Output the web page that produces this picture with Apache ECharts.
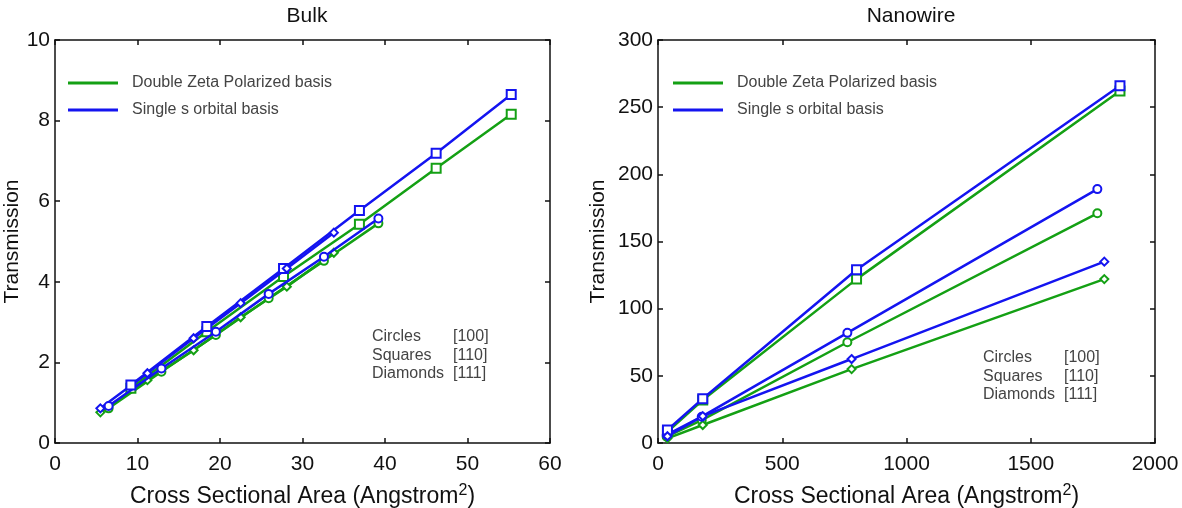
<!DOCTYPE html>
<html>
<head>
<meta charset="utf-8">
<script src="https://cdn.jsdelivr.net/npm/echarts@6/dist/echarts.min.js"></script>
<style>
  html, body { margin: 0; padding: 0; background: #fff; }
  #chart { width: 1182px; height: 508px; }
</style>
</head>
<body>
<div id="chart"></div>
<script>
// Bulk: cross sectional area (Angstrom^2) and transmission per orientation
const bulkArea100 = [6.5, 12.9, 19.5, 25.9, 32.6, 39.2]
const bulkDzp100 = [0.86, 1.77, 2.68, 3.59, 4.52, 5.45]
const bulkSs100 = [0.92, 1.85, 2.76, 3.70, 4.62, 5.57]

const bulkArea110 = [9.2, 18.4, 27.7, 36.9, 46.2, 55.3]
const bulkDzp110 = [1.36, 2.76, 4.13, 5.43, 6.82, 8.16]
const bulkSs110 = [1.44, 2.89, 4.33, 5.77, 7.19, 8.65]

const bulkArea111 = [5.5, 11.2, 16.8, 22.5, 28.1, 33.8]
const bulkDzp111 = [0.76, 1.56, 2.30, 3.12, 3.88, 4.72]
const bulkSs111 = [0.86, 1.73, 2.60, 3.47, 4.33, 5.22]

// Nanowire
const wireArea100 = [35, 176, 762, 1768]
const wireDzp100 = [4.7, 17, 75, 171]
const wireSs100 = [6, 19.6, 82, 189]

const wireArea110 = [38, 180, 799, 1859]
const wireDzp110 = [8.4, 32, 122, 262]
const wireSs110 = [9.7, 33, 129, 266]

const wireArea111 = [38, 180, 779, 1796]
const wireDzp111 = [3.5, 13.4, 55, 122]
const wireSs111 = [5, 20, 62.5, 135]

const dzpName = 'Double Zeta Polarized basis'
const ssName = 'Single s orbital basis'
const green = '#14a014'
const blue = '#1414f0'
const xName = 'Cross Sectional Area (Angstrom{sup|2})'
const noteRows = [['Circles', '[100]'], ['Squares', '[110]'], ['Diamonds', '[111]']]
const font = 'Liberation Sans'

const chart = echarts.init(document.getElementById('chart'))

const makeSeries = (name, color, symbol, xs, ys, axis) => ({
  name,
  type: 'line',
  xAxisIndex: axis,
  yAxisIndex: axis,
  symbol,
  symbolSize: symbol === 'emptyRect' ? 9 : 8,
  showSymbol: true,
  data: xs.map((x, i) => [x, ys[i]]),
  lineStyle: { color, width: 2.5 },
  itemStyle: { color, borderWidth: 2 },
  emphasis: { disabled: true },
  z: color === blue ? 3 : 2,
})

const frameLine = { onZero: false, lineStyle: { color: '#111', width: 1.5 } }
const frameTick = { show: true, inside: true, length: 5, lineStyle: { color: '#111', width: 1.5 } }

const bottomAxis = (grid, max, interval) => ({
  type: 'value', gridIndex: grid, min: 0, max, interval,
  name: xName, nameLocation: 'middle', nameGap: 40,
  nameTextStyle: {
    fontFamily: font, fontSize: 23, color: '#111',
    rich: { sup: { fontSize: 16, fontFamily: font, color: '#111', padding: [0, 0, 11, 0] } },
  },
  axisLine: frameLine,
  axisTick: frameTick,
  axisLabel: { fontFamily: font, fontSize: 21, color: '#111', margin: 11, formatter: (v) => String(v) },
  splitLine: { show: false },
})

const topAxis = (grid, max, interval) => ({
  type: 'value', gridIndex: grid, position: 'top', min: 0, max, interval,
  axisLine: frameLine,
  axisTick: frameTick,
  axisLabel: { show: false },
  splitLine: { show: false },
})

const leftAxis = (grid, max, interval, gap) => ({
  type: 'value', gridIndex: grid, min: 0, max, interval,
  name: 'Transmission', nameLocation: 'middle', nameGap: gap,
  nameTextStyle: { fontFamily: font, fontSize: 21, color: '#111' },
  axisLine: { show: true, ...frameLine },
  axisTick: frameTick,
  axisLabel: { fontFamily: font, fontSize: 21, color: '#111', margin: 5, formatter: (v) => String(v) },
  splitLine: { show: false },
})

const rightAxis = (grid, max, interval) => ({
  type: 'value', gridIndex: grid, position: 'right', min: 0, max, interval,
  axisLine: { show: true, ...frameLine },
  axisTick: frameTick,
  axisLabel: { show: false },
  splitLine: { show: false },
})

const makeLegend = (left) => ({
  left, top: 70, orient: 'vertical',
  icon: 'rect', itemWidth: 50, itemHeight: 3, itemGap: 11,
  textStyle: { fontFamily: font, fontSize: 16, color: '#444', padding: [0, 0, 0, 9] },
  data: [
    { name: dzpName, itemStyle: { color: green, borderWidth: 0 } },
    { name: ssName, itemStyle: { color: blue, borderWidth: 0 } },
  ],
})

const makeNotes = (left, bracketLeft, top) => {
  const items = []
  noteRows.forEach((row, i) => {
    items.push({ type: 'text', left, top: top + i * 18.5,
      style: { text: row[0], fontFamily: font, fontSize: 16, fill: '#444' } })
    items.push({ type: 'text', left: bracketLeft, top: top + i * 18.5,
      style: { text: row[1], fontFamily: font, fontSize: 16, fill: '#444' } })
  })
  return items
}

const option = {
  backgroundColor: '#fff',
  animation: false,
  title: [
    { text: 'Bulk', left: 302, top: 1, textAlign: 'center',
      textStyle: { fontFamily: font, fontSize: 21, fontWeight: 'normal', color: '#111' } },
    { text: 'Nanowire', left: 906, top: 1, textAlign: 'center',
      textStyle: { fontFamily: font, fontSize: 21, fontWeight: 'normal', color: '#111' } },
  ],
  legend: [makeLegend(63), makeLegend(668)],
  grid: [
    { left: 55, right: 632, top: 40, bottom: 65, outerBoundsMode: 'none' },
    { left: 658, right: 27, top: 40, bottom: 65, outerBoundsMode: 'none' },
  ],
  xAxis: [bottomAxis(0, 60, 10), topAxis(0, 60, 10), bottomAxis(1, 2000, 500), topAxis(1, 2000, 500)],
  yAxis: [leftAxis(0, 10, 2, 18), rightAxis(0, 10, 2), leftAxis(1, 300, 50, 49), rightAxis(1, 300, 50)],
  graphic: [...makeNotes(372, 453, 329), ...makeNotes(983, 1064, 350)],
  series: [
    makeSeries(dzpName, green, 'emptyCircle', bulkArea100, bulkDzp100, 0),
    makeSeries(dzpName, green, 'emptyRect', bulkArea110, bulkDzp110, 0),
    makeSeries(dzpName, green, 'emptyDiamond', bulkArea111, bulkDzp111, 0),
    makeSeries(ssName, blue, 'emptyCircle', bulkArea100, bulkSs100, 0),
    makeSeries(ssName, blue, 'emptyRect', bulkArea110, bulkSs110, 0),
    makeSeries(ssName, blue, 'emptyDiamond', bulkArea111, bulkSs111, 0),
    makeSeries(dzpName, green, 'emptyCircle', wireArea100, wireDzp100, 2),
    makeSeries(dzpName, green, 'emptyRect', wireArea110, wireDzp110, 2),
    makeSeries(dzpName, green, 'emptyDiamond', wireArea111, wireDzp111, 2),
    makeSeries(ssName, blue, 'emptyCircle', wireArea100, wireSs100, 2),
    makeSeries(ssName, blue, 'emptyRect', wireArea110, wireSs110, 2),
    makeSeries(ssName, blue, 'emptyDiamond', wireArea111, wireSs111, 2),
  ],
}

chart.setOption(option)

window.addEventListener('resize', () => {
  chart.resize()
})
</script>
</body>
</html>
